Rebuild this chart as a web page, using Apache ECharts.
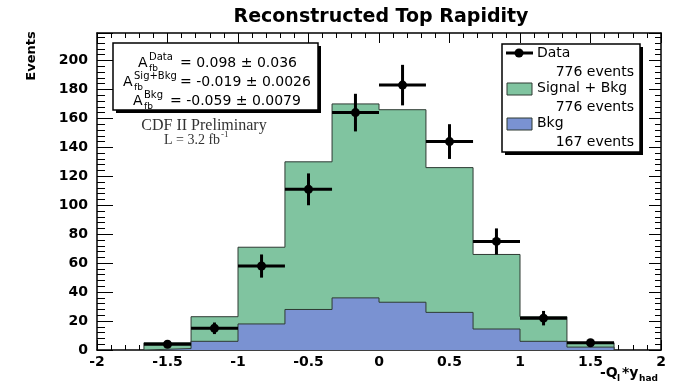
<!DOCTYPE html>
<html>
<head>
<meta charset="utf-8">
<title>Reconstructed Top Rapidity</title>
<script src="https://cdn.jsdelivr.net/npm/echarts@6/dist/echarts.min.js"></script>
<style>
  html, body { margin: 0; padding: 0; background: #fff; }
  #chart { width: 673px; height: 382px; }
</style>
</head>
<body>
<div id="chart"></div>
<script>
// Histogram bin edges in -Q_l*y_had (10 bins of width 1/3)
const binEdges = [-1.667, -1.333, -1.0, -0.667, -0.333, 0.0, 0.333, 0.667, 1.0, 1.333, 1.667];
// Expected events per bin: signal + background, and background only
const sigBkgCounts = [5, 23, 71, 130, 170, 166, 126, 66, 23, 5];
const bkgCounts = [1, 6, 18, 28, 36, 33, 26, 14.5, 6, 2];
// Observed data: bin centres, counts and statistical errors
const dataCenters = [-1.5, -1.167, -0.833, -0.5, -0.167, 0.167, 0.5, 0.833, 1.167, 1.5];
const dataCounts = [4, 15, 58, 111, 164, 183, 144, 75, 22, 5];
const dataErrors = [2, 4, 8, 11, 13, 14, 12, 9, 5, 2];
// Axis ranges and tick spacing
const xRange = [-2, 2];
const xTickStep = 0.5;
const yRange = [0, 219];
const yTickStep = 20;

const SANS = '"DejaVu Sans", Verdana, sans-serif';
const SERIF = '"Liberation Serif", "Times New Roman", serif';
const GREEN = '#80c4a0';
const BLUE = '#7a92d2';
const EDGE = '#2e3a33';

// Outline of a filled histogram as a stepped polyline starting and ending on zero
function stepOutline(values) {
  const last = binEdges.length - 1;
  const pts = [[binEdges[0], 0]];
  values.forEach((v, i) => pts.push([binEdges[i], v]));
  pts.push([binEdges[last], values[values.length - 1]]);
  pts.push([binEdges[last], 0]);
  return pts;
}

const dataPoints = dataCenters.map((c, i) =>
  [c, dataCounts[i], dataErrors[i], binEdges[i], binEdges[i + 1]]);

const chart = echarts.init(document.getElementById('chart'), null, { renderer: 'canvas' });

function xAxisCfg(pos, showLabels) {
  return {
    type: 'value', position: pos, min: xRange[0], max: xRange[1], interval: xTickStep,
    axisLine: { show: true, onZero: false, lineStyle: { color: '#000', width: 1.5 } },
    axisTick: { show: true, inside: true, length: 10, lineStyle: { color: '#000', width: 1 } },
    minorTick: { show: true, splitNumber: 5, length: 5, lineStyle: { color: '#000', width: 1 } },
    axisLabel: { show: showLabels, margin: 5, color: '#000', fontFamily: SANS, fontWeight: 'bold', fontSize: 14 },
    splitLine: { show: false }, minorSplitLine: { show: false }
  };
}
function yAxisCfg(pos, showLabels, major, minor) {
  return {
    type: 'value', position: pos, min: yRange[0], max: yRange[1], interval: yTickStep,
    axisLine: { show: true, onZero: false, lineStyle: { color: '#000', width: 1.5 } },
    axisTick: { show: true, inside: true, length: major, lineStyle: { color: '#000', width: 1 } },
    minorTick: { show: true, splitNumber: 5, length: minor, lineStyle: { color: '#000', width: 1 } },
    axisLabel: {
      show: showLabels, margin: 9, color: '#000', fontFamily: SANS, fontWeight: 'bold', fontSize: 14,
      formatter: v => (v % yTickStep === 0 ? String(v) : '')
    },
    splitLine: { show: false }, minorSplitLine: { show: false }
  };
}

function txt(x, y, text, opts) {
  opts = opts || {};
  return {
    type: 'text', x: x, y: y, z: 100, rotation: opts.rotation || 0,
    style: {
      text: text, fill: opts.fill || '#000',
      font: (opts.weight || 'normal') + ' ' + (opts.size || 14) + 'px ' + (opts.family || SANS),
      align: opts.align || 'left', verticalAlign: opts.valign || 'middle'
    }
  };
}
function shadowBox(x, y, w, h) {
  return [
    { type: 'rect', z: 99, shape: { x: x + 3, y: y + 3, width: w, height: h }, style: { fill: '#000' } },
    { type: 'rect', z: 99, shape: { x: x, y: y, width: w, height: h }, style: { fill: '#fff', stroke: '#000', lineWidth: 1.5 } }
  ];
}

const graphics = [].concat(
  [
    txt(381, 17, 'Reconstructed Top Rapidity', { weight: 'bold', size: 19, align: 'center' }),
    txt(32, 56, 'Events', { weight: 'bold', size: 13, align: 'center', rotation: Math.PI / 2 }),
    // x-axis title -Q_l*y_had
    txt(600, 373, '-Q', { weight: 'bold', size: 14 }),
    txt(617, 379, 'l', { weight: 'bold', size: 9 }),
    txt(622, 373, '*y', { weight: 'bold', size: 14 }),
    txt(639, 379, 'had', { weight: 'bold', size: 9 })
  ],
  // asymmetry summary box
  shadowBox(113, 43, 205, 67),
  [
    txt(138, 63, 'A', { size: 14 }), txt(149, 57, 'Data', { size: 10 }), txt(149, 69, 'fb', { size: 9 }),
    txt(180, 63, '= 0.098 \u00b1 0.036', { size: 14 }),
    txt(123, 82, 'A', { size: 14 }), txt(134, 76, 'Sig+Bkg', { size: 10 }), txt(134, 88, 'fb', { size: 9 }),
    txt(180, 82, '= -0.019 \u00b1 0.0026', { size: 14 }),
    txt(133, 101, 'A', { size: 14 }), txt(144, 95, 'Bkg', { size: 10 }), txt(144, 107, 'fb', { size: 9 }),
    txt(170, 101, '= -0.059 \u00b1 0.0079', { size: 14 }),
    txt(204, 126, 'CDF II Preliminary', { size: 16, family: SERIF, align: 'center', fill: '#333' }),
    txt(164, 140, 'L = 3.2 fb', { size: 14, family: SERIF, fill: '#333' }),
    txt(221, 135, '-1', { size: 9, family: SERIF, fill: '#333' })
  ],
  // legend box
  shadowBox(502, 44, 138, 108),
  [
    { type: 'line', z: 100, shape: { x1: 506, y1: 53, x2: 533, y2: 53 }, style: { stroke: '#000', lineWidth: 3 } },
    { type: 'circle', z: 100, shape: { cx: 519, cy: 53, r: 4.5 }, style: { fill: '#000' } },
    txt(537, 53, 'Data', { size: 14 }),
    txt(634, 72, '776 events', { size: 14, align: 'right' }),
    { type: 'rect', z: 100, shape: { x: 507, y: 83, width: 25, height: 12 }, style: { fill: GREEN, stroke: EDGE, lineWidth: 1 } },
    txt(537, 88, 'Signal + Bkg', { size: 14 }),
    txt(634, 107, '776 events', { size: 14, align: 'right' }),
    { type: 'rect', z: 100, shape: { x: 507, y: 118, width: 25, height: 12 }, style: { fill: BLUE, stroke: EDGE, lineWidth: 1 } },
    txt(537, 123, 'Bkg', { size: 14 }),
    txt(634, 142, '167 events', { size: 14, align: 'right' })
  ]
);

const option = {
  animation: false,
  backgroundColor: '#fff',
  grid: { left: 97, right: 12, top: 33, bottom: 32, containLabel: false },
  xAxis: [xAxisCfg('bottom', true), xAxisCfg('top', false)],
  yAxis: [yAxisCfg('left', true, 16, 8), yAxisCfg('right', false, 12, 6)],
  series: [
    {
      name: 'Signal + Bkg', type: 'line', step: 'end', symbol: 'none', z: 2,
      data: stepOutline(sigBkgCounts),
      lineStyle: { color: EDGE, width: 1 },
      areaStyle: { color: GREEN, opacity: 1 }
    },
    {
      name: 'Bkg', type: 'line', step: 'end', symbol: 'none', z: 3,
      data: stepOutline(bkgCounts),
      lineStyle: { color: EDGE, width: 1 },
      areaStyle: { color: BLUE, opacity: 1 }
    },
    {
      name: 'Data', type: 'custom', z: 5,
      data: dataPoints,
      encode: { x: 0, y: 1 },
      renderItem: function (params, api) {
        const x = api.value(0), y = api.value(1), e = api.value(2);
        const lo = api.value(3), hi = api.value(4);
        const c = api.coord([x, y]);
        const l = api.coord([lo, y]), r = api.coord([hi, y]);
        const t = api.coord([x, y + e]), b = api.coord([x, Math.max(0, y - e)]);
        return {
          type: 'group',
          children: [
            { type: 'line', shape: { x1: l[0], y1: l[1], x2: r[0], y2: r[1] }, style: { stroke: '#000', lineWidth: 3 } },
            { type: 'line', shape: { x1: t[0], y1: t[1], x2: b[0], y2: b[1] }, style: { stroke: '#000', lineWidth: 3 } },
            { type: 'circle', shape: { cx: c[0], cy: c[1], r: 4.5 }, style: { fill: '#000' } }
          ]
        };
      }
    }
  ],
  graphic: graphics
};

chart.setOption(option);
</script>
</body>
</html>
